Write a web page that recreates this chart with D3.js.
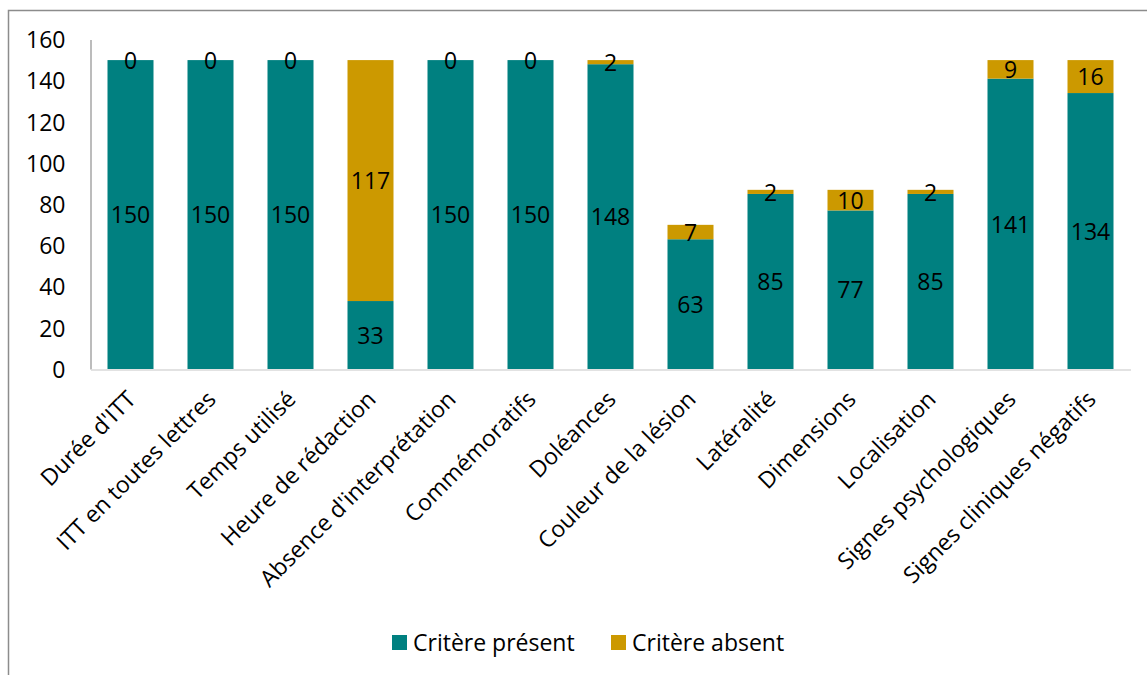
<!DOCTYPE html>
<html><head><meta charset="utf-8">
<script src="https://cdn.jsdelivr.net/npm/d3@7"></script>
<style>
html,body{margin:0;padding:0;background:#fff;}
svg text{font-family:"Open Sans",sans-serif;fill:#000;}
</style></head>
<body><svg id="c" width="1147" height="675"></svg>
<script>
const categories = ["Durée d'ITT","ITT en toutes lettres","Temps utilisé","Heure de rédaction","Absence d'interprétation","Commémoratifs","Doléances","Couleur de la lésion","Latéralité","Dimensions","Localisation","Signes psychologiques","Signes cliniques négatifs"];
const present = [150,150,150,33,150,150,148,63,85,77,85,141,134];
const absent = [0,0,0,117,0,0,2,7,2,10,2,9,16];
const seriesNames = ["Critère présent","Critère absent"];
const yTicks = [0,20,40,60,80,100,120,140,160];

const colors = ["#008080","#CC9900"];
const FS = 23;
const svg = d3.select("#c");

// outer frame
svg.append("rect").attr("x",8.5).attr("y",10.5).attr("width",1300).attr("height",800)
  .attr("fill","none").attr("stroke","#8c8c8c").attr("stroke-width",1.5);

const x = d3.scaleBand().domain(categories).range([90.5,1130.5]).paddingInner(0.425).paddingOuter(0.2125);
const y = d3.scaleLinear().domain([0,160]).range([369,39.5]);

const rows = categories.map((c,i)=>({cat:c, present:present[i], absent:absent[i]}));
const stack = d3.stack().keys(["present","absent"])(rows);

// bars
stack.forEach((layer,li)=>{
  svg.append("g").selectAll("rect").data(layer).join("rect")
    .attr("x",d=>x(d.data.cat)).attr("width",x.bandwidth())
    .attr("y",d=>y(d[1])).attr("height",d=>y(d[0])-y(d[1]))
    .attr("fill",colors[li]);
});

// axes
const gy = svg.append("g").attr("transform","translate(90.5,0)")
  .call(d3.axisLeft(y).tickValues(yTicks).tickSize(0).tickPadding(25));
gy.select(".domain").attr("stroke","#a6a6a6").attr("stroke-width",1.5);
gy.selectAll("text").style("font-size",FS+"px").attr("dy","0.36em");

const gx = svg.append("g").attr("transform","translate(0,369.5)")
  .call(d3.axisBottom(x).tickSize(0).tickFormat(""));
gx.select(".domain").attr("stroke","#d9d9d9").attr("stroke-width",1.5);

// category labels
svg.append("g").selectAll("text").data(categories).join("text")
  .attr("transform",d=>`translate(${x(d)+x.bandwidth()/2+1},${395}) rotate(-45)`)
  .attr("text-anchor","end").attr("dy","0.35em")
  .style("font-size",FS+"px").text(d=>d);

// value labels
stack.forEach((layer,li)=>{
  svg.append("g").selectAll("text").data(layer).join("text")
    .attr("x",d=>x(d.data.cat)+x.bandwidth()/2)
    .attr("y",d=>(y(d[0])+y(d[1]))/2)
    .attr("dy","0.38em").attr("text-anchor","middle")
    .style("font-size",FS+"px")
    .text(d=>d[1]-d[0]);
});

// legend
const legX = [392, 611];
const lg = svg.append("g");
seriesNames.forEach((n,i)=>{
  lg.append("rect").attr("x",legX[i]).attr("y",635).attr("width",15).attr("height",15).attr("fill",colors[i]);
  lg.append("text").attr("x",legX[i]+21).attr("y",642.5).attr("dy","0.36em").style("font-size",FS+"px").text(n);
});
</script></body></html>
